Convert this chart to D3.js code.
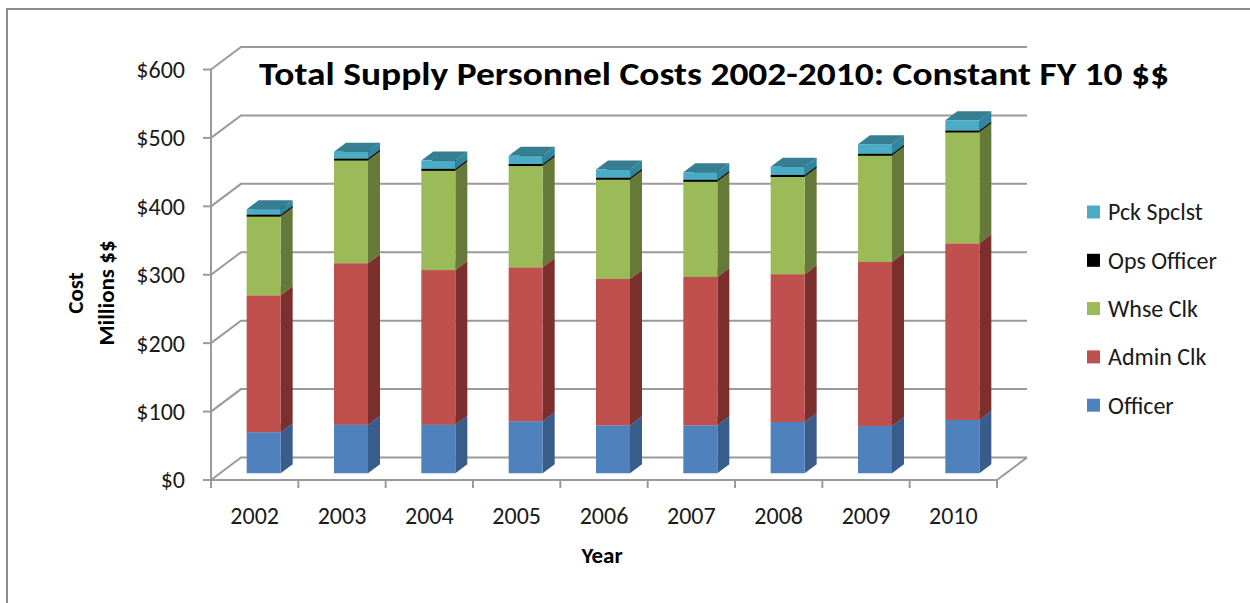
<!DOCTYPE html>
<html>
<head>
<meta charset="utf-8">
<title>Total Supply Personnel Costs</title>
<style>
  body { margin: 0; background: #fff; }
  svg text { font-family: Carlito, Calibri, Lato, "Liberation Sans", sans-serif; fill: #1a1a1a; }
  .grid { stroke: #9a9a9a; stroke-width: 2; fill: none; }
  .title { font-weight: bold; font-size: 33px; fill: #000; }
  .axis-title { font-weight: bold; font-size: 23px; fill: #000; }
  .tick-label { font-size: 24px; }
  .legend text { font-size: 24px; }
</style>
</head>
<body>
<div id="chart"></div>
<script src="https://d3js.org/d3.v7.min.js"></script>
<script>
// data (millions of $)
var years      = ["2002", "2003", "2004", "2005", "2006", "2007", "2008", "2009", "2010"];
var officer    = [60, 71, 71, 76, 70, 70, 75, 69, 78];
var adminClk   = [200, 236, 226, 225, 214, 217, 216, 240, 258];
var whseClk    = [115, 150, 145, 148, 145, 139, 142, 155, 162];
var opsOfficer = [3, 3, 3, 3, 3, 3, 3, 3, 3];
var pckSpclst  = [8, 10, 12, 12, 12, 11, 12, 14, 15];
var seriesNames = ["Officer", "Admin Clk", "Whse Clk", "Ops Officer", "Pck Spclst"];
var yTicks = [0, 100, 200, 300, 400, 500, 600];

var width = 1250, height = 603;

// face colours: front, side, top
var colors = {
  "Officer":     ["#4f81bd", "#385d8a", "#6f98cc"],
  "Admin Clk":   ["#c0504d", "#7c302e", "#d06c69"],
  "Whse Clk":    ["#9bbb59", "#657a38", "#b0cc78"],
  "Ops Officer": ["#000000", "#111111", "#1a1a1a"],
  "Pck Spclst":  ["#4bacc6", "#31859c", "#367f92"]
};

var table = years.map(function(y, i) {
  return { year: y, "Officer": officer[i], "Admin Clk": adminClk[i], "Whse Clk": whseClk[i],
           "Ops Officer": opsOfficer[i], "Pck Spclst": pckSpclst[i] };
});
var stacked = d3.stack().keys(seriesNames)(table);

var svg = d3.select("#chart").append("svg")
  .attr("width", width)
  .attr("height", height);

// chart frame
svg.append("rect")
  .attr("x", 7).attr("y", 9)
  .attr("width", 1300).attr("height", 700)
  .attr("fill", "#fff")
  .attr("stroke", "#8c8c8c")
  .attr("stroke-width", 2);

// scales on the front plane of the floor
var x = d3.scaleBand().domain(years).range([211, 997]);
var y = d3.scaleLinear().domain([0, 600]).range([480, 69.5]);

// 3D depth offset of the whole plot
var DX = 30, DY = -22.5;
var wallRight = x.range()[1] + DX;

// ------------ walls and gridlines -------------
var grid = svg.append("g");
yTicks.forEach(function(t) {
  var yy = y(t);
  grid.append("path")
    .attr("class", "grid")
    .attr("d", "M" + x.range()[0] + "," + yy + " L" + (x.range()[0] + DX) + "," + (yy + DY) + " L" + wallRight + "," + (yy + DY));
});

// floor front and right edges
grid.append("path")
  .attr("class", "grid")
  .attr("d", "M" + x.range()[0] + "," + y(0) + " L" + x.range()[1] + "," + y(0) + " L" + wallRight + "," + (y(0) + DY));

// vertical axis line and ticks
grid.append("line").attr("class", "grid")
  .attr("x1", x.range()[0]).attr("x2", x.range()[0])
  .attr("y1", y(0)).attr("y2", y(600));

grid.selectAll("line.ytick")
  .data(yTicks)
  .enter().append("line")
  .attr("class", "grid ytick")
  .attr("x1", x.range()[0] - 8).attr("x2", x.range()[0])
  .attr("y1", function(d) { return y(d); })
  .attr("y2", function(d) { return y(d); });

// category ticks on the floor edge
var xTicks = years.map(function(d) { return x(d); }).concat([x.range()[1]]);
grid.selectAll("line.xtick")
  .data(xTicks)
  .enter().append("line")
  .attr("class", "grid xtick")
  .attr("x1", function(d) { return d; }).attr("x2", function(d) { return d; })
  .attr("y1", y(0)).attr("y2", y(0) + 8);

// ------------ tick labels -------------
svg.selectAll("text.ylab")
  .data(yTicks)
  .enter().append("text")
  .attr("class", "tick-label ylab")
  .attr("x", 185)
  .attr("y", function(d) { return y(d); })
  .attr("dy", "0.35em")
  .attr("text-anchor", "end")
  .text(function(d) { return "$" + d; });

svg.selectAll("text.xlab")
  .data(years)
  .enter().append("text")
  .attr("class", "tick-label xlab")
  .attr("x", function(d) { return x(d) + x.bandwidth() / 2; })
  .attr("y", 524)
  .attr("text-anchor", "middle")
  .text(function(d) { return d; });

// ------------ 3D stacked bars -------------
var barW = 34;
var t0 = 0.3, t1 = 0.7;          // front and back of bars as fraction of depth
var sx = DX * (t1 - t0), sy = DY * (t1 - t0);

function pts(a) { return a.map(function(p) { return p.join(","); }).join(" "); }

var bars = svg.append("g");
years.forEach(function(yr, i) {
  var xl = x(yr) + (x.bandwidth() - barW) / 2 + DX * t0;
  var xr = xl + barW;
  stacked.forEach(function(s) {
    var c = colors[s.key];
    var yb = y(s[i][0]) + DY * t0;
    var yt = y(s[i][1]) + DY * t0;
    var g = bars.append("g");
    // side face
    g.append("polygon")
      .attr("points", pts([[xr, yb], [xr + sx, yb + sy], [xr + sx, yt + sy], [xr, yt]]))
      .attr("fill", c[1]);
    // top face
    g.append("polygon")
      .attr("points", pts([[xl, yt], [xr, yt], [xr + sx, yt + sy], [xl + sx, yt + sy]]))
      .attr("fill", c[2]);
    // front face
    g.append("rect")
      .attr("x", xl).attr("y", yt)
      .attr("width", barW).attr("height", Math.max(0, yb - yt))
      .attr("fill", c[0]);
  });
});

// ------------ titles -------------
svg.append("text")
  .attr("class", "title")
  .attr("x", 714).attr("y", 85)
  .attr("text-anchor", "middle")
  .attr("textLength", 910)
  .attr("lengthAdjust", "spacingAndGlyphs")
  .text("Total Supply Personnel Costs 2002-2010: Constant FY 10 $$");

svg.append("text")
  .attr("class", "axis-title")
  .attr("transform", "translate(75,293) rotate(-90)")
  .attr("text-anchor", "middle")
  .attr("dy", "0.35em")
  .text("Cost");
svg.append("text")
  .attr("class", "axis-title")
  .attr("transform", "translate(106,293) rotate(-90)")
  .attr("text-anchor", "middle")
  .attr("dy", "0.35em")
  .text("Millions $$");

svg.append("text")
  .attr("class", "axis-title")
  .attr("x", 602).attr("y", 563)
  .attr("text-anchor", "middle")
  .text("Year");

// ------------ legend -------------
var legendKeys = seriesNames.slice().reverse();
var legend = svg.append("g").attr("class", "legend")
  .selectAll("g")
  .data(legendKeys)
  .enter().append("g")
  .attr("transform", function(d, i) { return "translate(1087," + (212 + i * 48.3) + ")"; });

legend.append("rect")
  .attr("x", 0).attr("y", -6.5)
  .attr("width", 13).attr("height", 13)
  .attr("fill", function(d) { return colors[d][0]; });

legend.append("text")
  .attr("x", 21).attr("y", 0)
  .attr("dy", "0.35em")
  .text(function(d) { return d; });
</script>
</body>
</html>
